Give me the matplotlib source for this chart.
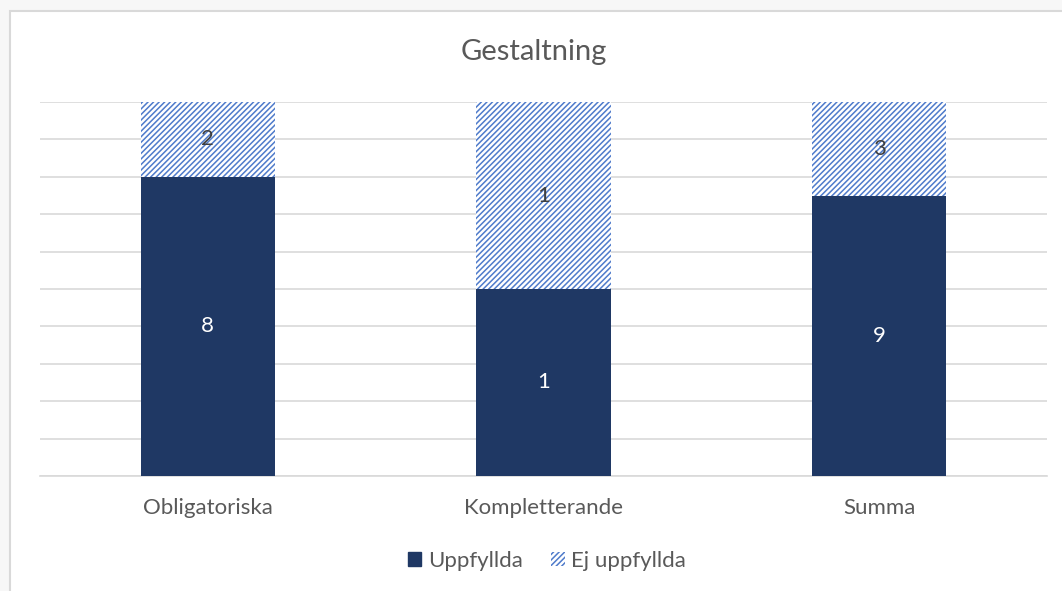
import matplotlib
matplotlib.use("Agg")
import matplotlib.pyplot as plt
from matplotlib.patches import Rectangle, Patch
import numpy as np

categories = ["Obligatoriska", "Kompletterande", "Summa"]
uppfyllda = [8, 1, 9]
ej_uppfyllda = [2, 1, 3]
title = "Gestaltning"
series_names = ["Uppfyllda", "Ej uppfyllda"]

plt.rcParams['font.family'] = ['Lato', 'DejaVu Sans']
plt.rcParams['hatch.linewidth'] = 1.1
plt.rcParams['hatch.color'] = '#4F7BCB'

dark = '#1F3864'
hatch_col = '#4F7BCB'
txt = '#595959'

fig = plt.figure(figsize=(10.62, 5.91), dpi=100)
fig.patch.set_facecolor('#F7F7F7')
bg = Rectangle((10/1062, -0.05), 1.1, 1 - 11/591 + 0.05, transform=fig.transFigure,
               facecolor='white', edgecolor='#D9D9D9', linewidth=1.5, zorder=-10)
fig.patches.append(bg)

ax = fig.add_axes([40/1062, 1 - 476/591, 1007/1062, (476 - 102)/591])
ax.set_facecolor('none')
ax.set_zorder(1)

u = np.array(uppfyllda, dtype=float)
e = np.array(ej_uppfyllda, dtype=float)
tot = u + e
up = u / tot * 100
ep = e / tot * 100
x = np.arange(len(categories))
w = 0.4

ax.bar(x, up, w, color=dark, zorder=3)
ax.bar(x, ep, w, bottom=up, facecolor='white', edgecolor=hatch_col, hatch='//////', linewidth=0, zorder=3)

for i in range(len(categories)):
    ax.text(x[i], up[i] / 2, str(uppfyllda[i]), ha='center', va='center', color='white', fontsize=16, zorder=4)
    ax.text(x[i], up[i] + ep[i] / 2, str(ej_uppfyllda[i]), ha='center', va='center', color='#404040', fontsize=16, zorder=4)

ax.set_xlim(-0.5, len(categories) - 0.5)
ax.set_ylim(0, 100)
ax.set_yticks(np.arange(0, 101, 10))
ax.yaxis.grid(True, color='#D9D9D9', linewidth=1.2, zorder=0)
ax.set_axisbelow(True)
ax.tick_params(axis='y', left=False, labelleft=False)
ax.tick_params(axis='x', bottom=False, colors=txt, labelsize=16, pad=12)
ax.set_xticks(x)
ax.set_xticklabels(categories)
for s in ['top', 'right', 'left']:
    ax.spines[s].set_visible(False)
ax.spines['bottom'].set_color('#D9D9D9')
ax.spines['bottom'].set_linewidth(1.2)

fig.text(0.5 + 3/1062, 1 - 52/591, title, ha='center', va='center', fontsize=21, color=txt)

handles = [Patch(facecolor=dark, edgecolor=dark),
           Patch(facecolor='white', edgecolor=hatch_col, hatch='//////', linewidth=0)]
fig.legend(handles, series_names, loc='center', bbox_to_anchor=(547/1062, 1 - 561/591), ncol=2,
           frameon=False, fontsize=16, labelcolor=txt, handlelength=0.6, handleheight=0.6,
           handletextpad=0.3, columnspacing=1.3)

fig.savefig('out.png', dpi=100, facecolor=fig.get_facecolor())
